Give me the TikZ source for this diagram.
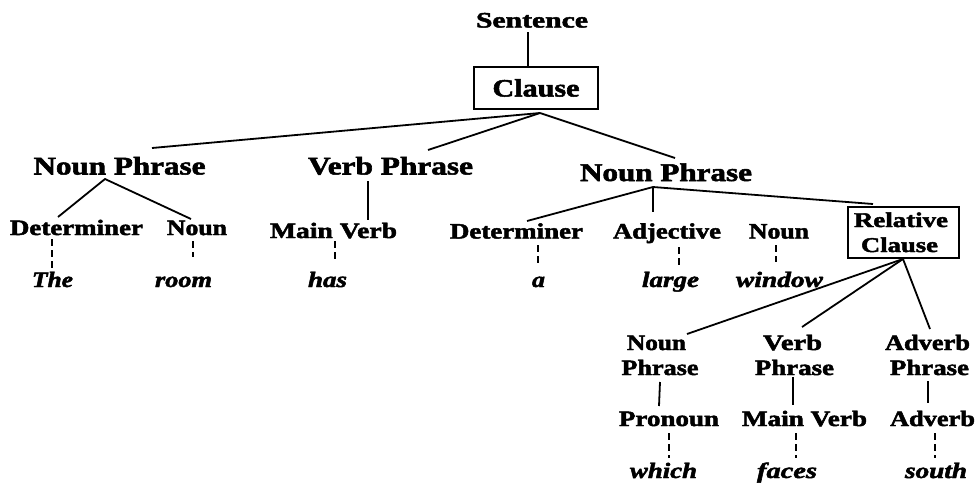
\documentclass[tikz,border=0pt]{standalone}
\usepackage{fontspec}
\setmainfont{Liberation Serif}
\newfontfamily\hvfont[FakeBold=2]{Liberation Serif Bold}
\newfontfamily\hvifont[FakeBold=2]{Liberation Serif Bold Italic}
\newcommand\lbl[3]{\resizebox{#2pt}{\height}{\fontsize{#1}{#1}\selectfont\hvfont #3}}
\newcommand\ilbl[3]{\resizebox{#2pt}{\height}{\fontsize{#1}{#1}\selectfont\hvifont #3}}
\tikzset{
  lab/.style={inner sep=0pt, outer sep=0pt, anchor=base},
  boxnode/.style={draw, line width=2pt, inner sep=0pt},
  branch/.style={line width=1.8pt},
  lexlink/.style={line width=1.8pt, dash pattern=on 7pt off 4pt},
}
\begin{document}
\begin{tikzpicture}[x=1pt,y=-1pt]
\fill[white] (0,0) rectangle (979,485);
\useasboundingbox (0,0) rectangle (979,485);

% ---- labels ----
\node[lab] (sentence) at (532,27.5) {\lbl{22}{112}{Sentence}};
\node[boxnode, minimum width=124pt, minimum height=42pt] (clause) at (536,88) {\lbl{25}{87}{Clause}};

\node[lab] (np1) at (119.5,174.5) {\lbl{25.5}{172}{Noun Phrase}};
\node[lab] (vp1) at (390.5,174.5) {\lbl{25.5}{165}{Verb Phrase}};
\node[lab] (np2) at (666,181) {\lbl{25.5}{172}{Noun Phrase}};

\node[lab] (det1) at (76.5,235) {\lbl{22}{133}{Determiner}};
\node[lab] (noun1) at (197,235) {\lbl{22}{60}{Noun}};
\node[lab] (mv1) at (333.5,238) {\lbl{22}{127}{Main Verb}};
\node[lab] (det2) at (516.5,238.5) {\lbl{22}{133}{Determiner}};
\node[lab] (adj) at (667,238.5) {\lbl{22}{108}{Adjective}};
\node[lab] (noun3) at (779,238.5) {\lbl{22}{60}{Noun}};

\node[boxnode, minimum width=111pt, minimum height=51pt] (rc) at (903.5,232.5) {};
\node[lab] (rc1) at (901,227) {\lbl{21}{94}{Relative}};
\node[lab] (rc2) at (899.5,252) {\lbl{21}{77}{Clause}};

\node[lab] (the) at (52.5,287) {\ilbl{22}{41}{The}};
\node[lab] (room) at (183.5,287) {\ilbl{22}{57}{room}};
\node[lab] (has) at (327.5,287) {\ilbl{22}{39}{has}};
\node[lab] (a) at (538.5,287) {\ilbl{22}{13}{a}};
\node[lab] (large) at (670.5,287) {\ilbl{22}{57}{large}};
\node[lab] (window) at (779.5,287) {\ilbl{22}{87}{window}};

\node[lab] (np3a) at (656.5,350) {\lbl{22}{59}{Noun}};
\node[lab] (np3b) at (660,375) {\lbl{22}{77}{Phrase}};
\node[lab] (vp3a) at (792.5,350) {\lbl{22}{59}{Verb}};
\node[lab] (vp3b) at (794.5,375) {\lbl{22}{79}{Phrase}};
\node[lab] (ap3a) at (927.5,350) {\lbl{22}{85}{Adverb}};
\node[lab] (ap3b) at (929.5,375) {\lbl{22}{79}{Phrase}};

\node[lab] (pron) at (669,426) {\lbl{22}{100}{Pronoun}};
\node[lab] (mv3) at (804.5,426) {\lbl{22}{125}{Main Verb}};
\node[lab] (adv) at (932.5,426) {\lbl{22}{85}{Adverb}};

\node[lab] (which) at (663.5,478) {\ilbl{22}{67}{which}};
\node[lab] (faces) at (787,478) {\ilbl{22}{60}{faces}};
\node[lab] (south) at (936,478) {\ilbl{22}{62}{south}};

% ---- connector end points ----
\coordinate (s-bot) at (528,32);
\coordinate (c-top) at (528,67);
\coordinate (c-apex) at (540,113);
\coordinate (np1-top) at (152,148);
\coordinate (vp1-top) at (428,150);
\coordinate (np2-top) at (675,158);
\coordinate (np1-apex) at (105,179);
\coordinate (det1-top) at (58,217);
\coordinate (noun1-top) at (191,219);
\coordinate (vp1-bot) at (368,181);
\coordinate (mv1-top) at (368,220);
\coordinate (np2-apex) at (653,187);
\coordinate (det2-top) at (527,221);
\coordinate (adj-top) at (653,212);
\coordinate (rc-top) at (873,204);
\coordinate (rc-apex) at (903,259);
\coordinate (np3-top) at (687,334);
\coordinate (vp3-top) at (802,327);
\coordinate (ap3-top) at (930,329);
\coordinate (np3-bot) at (660,382);
\coordinate (pron-top) at (659,406);
\coordinate (vp3-bot) at (793,377);
\coordinate (mv3-top) at (793,405);
\coordinate (ap3-bot) at (928,381);
\coordinate (adv-top) at (928,403);

\coordinate (det1-bot) at (52,239);  \coordinate (the-top) at (52,268);
\coordinate (noun1-bot) at (193,241);\coordinate (room-top) at (193,257);
\coordinate (mv1-bot) at (335,241);  \coordinate (has-top) at (335,260);
\coordinate (det2-bot) at (538,245); \coordinate (a-top) at (538,263);
\coordinate (adj-bot) at (679,247);  \coordinate (large-top) at (679,265);
\coordinate (noun3-bot) at (776,245);\coordinate (window-top) at (776,262);
\coordinate (pron-bot) at (669,433); \coordinate (which-top) at (669,458);
\coordinate (mv3-bot) at (796,433);  \coordinate (faces-top) at (796,458);
\coordinate (adv-bot) at (935,433);  \coordinate (south-top) at (935,458);

% ---- branches ----
\draw[branch] (s-bot) -- (c-top);
\draw[branch] (c-apex) -- (np1-top);
\draw[branch] (c-apex) -- (vp1-top);
\draw[branch] (c-apex) -- (np2-top);
\draw[branch] (det1-top) -- (np1-apex) -- (noun1-top);
\draw[branch] (vp1-bot) -- (mv1-top);
\draw[branch] (np2-apex) -- (det2-top);
\draw[branch] (np2-apex) -- (adj-top);
\draw[branch] (np2-apex) -- (rc-top);
\draw[branch] (rc-apex) -- (np3-top);
\draw[branch] (rc-apex) -- (vp3-top);
\draw[branch] (rc-apex) -- (ap3-top);
\draw[branch] (np3-bot) -- (pron-top);
\draw[branch] (vp3-bot) -- (mv3-top);
\draw[branch] (ap3-bot) -- (adv-top);

% ---- lexical links ----
\draw[lexlink] (det1-bot) -- (the-top);
\draw[lexlink] (noun1-bot) -- (room-top);
\draw[lexlink] (mv1-bot) -- (has-top);
\draw[lexlink] (det2-bot) -- (a-top);
\draw[lexlink] (adj-bot) -- (large-top);
\draw[lexlink] (noun3-bot) -- (window-top);
\draw[lexlink] (pron-bot) -- (which-top);
\draw[lexlink] (mv3-bot) -- (faces-top);
\draw[lexlink] (adv-bot) -- (south-top);
\end{tikzpicture}
\end{document}
